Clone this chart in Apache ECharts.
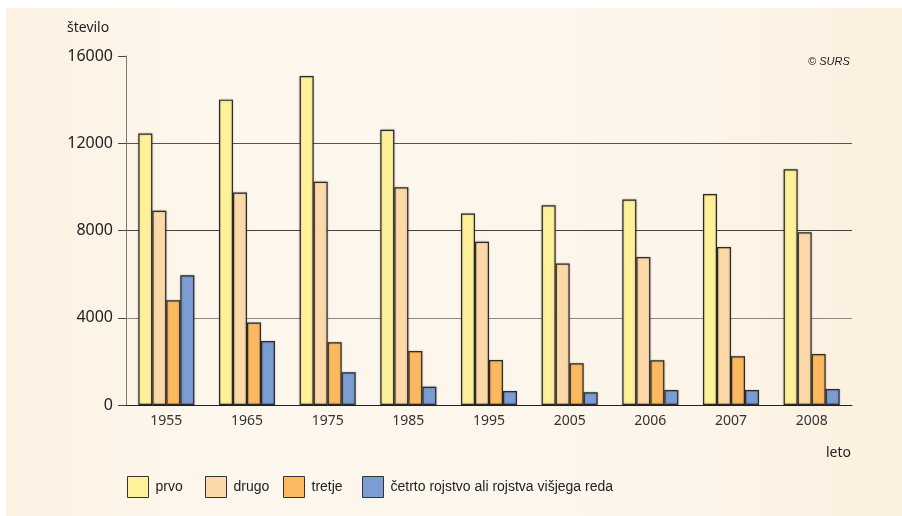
<!DOCTYPE html>
<html>
<head>
<meta charset="utf-8">
<script src="https://cdn.jsdelivr.net/npm/echarts@6/dist/echarts.min.js"></script>
<style>
  html, body { margin: 0; padding: 0; background: #fff; }
  #chart { width: 902px; height: 516px; }
</style>
</head>
<body>
<div id="chart"></div>
<script>
  // leta (kategorije)
  const years = ['1955', '1965', '1975', '1985', '1995', '2005', '2006', '2007', '2008']
  const seriesNames = ['prvo', 'drugo', 'tretje', 'četrto rojstvo ali rojstva višjega reda']
  const prvo = [12450, 14000, 15080, 12620, 8780, 9160, 9420, 9670, 10810]
  const drugo = [8900, 9740, 10230, 9980, 7480, 6490, 6780, 7240, 7920]
  const tretje = [4800, 3780, 2880, 2470, 2060, 1910, 2050, 2230, 2340]
  const cetrto = [5950, 2930, 1500, 840, 640, 580, 690, 690, 730]
  const yTicks = [0, 4000, 8000, 12000, 16000]

  const colors = ['#fff09a', '#fdd9a9', '#fdb95f', '#7b9dd3']
  const valueSets = [prvo, drugo, tretje, cetrto]
  const legendLeft = [127, 205, 283, 362]

  const font = '"Noto Sans", "Open Sans", sans-serif'

  const chart = echarts.init(document.getElementById('chart'))

  const option = {
    backgroundColor: '#fff',
    animation: false,
    textStyle: { fontFamily: font },
    graphic: [
      {
        type: 'rect',
        z: -10,
        silent: true,
        shape: { x: 6, y: 8, width: 896, height: 508 },
        style: {
          fill: {
            type: 'linear', x: 0, y: 0, x2: 1, y2: 0,
            colorStops: [
              { offset: 0, color: '#fdf2e2' },
              { offset: 0.25, color: '#fdf7ee' },
              { offset: 0.75, color: '#fdf5ea' },
              { offset: 1, color: '#fcf0de' }
            ]
          }
        }
      },
      {
        type: 'text', left: 67, top: 21,
        style: { text: 'število', fontSize: 14, fill: '#222', fontFamily: font }
      },
      {
        type: 'text', left: 826, top: 446,
        style: { text: 'leto', fontSize: 14, fill: '#222', fontFamily: font }
      },
      {
        type: 'text', left: 808, top: 56,
        style: { text: '© SURS', fontSize: 11, fontStyle: 'italic', fill: '#222', fontFamily: '"Liberation Sans", Arial, sans-serif' }
      }
    ],
    grid: { left: 126, right: 50, top: 56, bottom: 111 },
    legend: seriesNames.map((n, i) => ({
      data: [n],
      left: legendLeft[i],
      top: 476,
      padding: 0,
      icon: 'rect',
      itemWidth: 21,
      itemHeight: 21,
      itemStyle: { borderColor: '#333', borderWidth: 1 },
      textStyle: { fontSize: 14, color: '#222', padding: [0, 0, 0, 2], fontFamily: '"Liberation Sans Narrow", "Liberation Sans", sans-serif' }
    })),
    xAxis: [{
      type: 'category',
      data: years,
      axisLine: { lineStyle: { color: '#222', width: 1 } },
      axisTick: { show: false },
      axisLabel: { color: '#333', fontSize: 14, margin: 9 }
    }],
    yAxis: [{
      type: 'value',
      min: yTicks[0],
      max: yTicks[yTicks.length - 1],
      interval: 4000,
      axisLine: { show: true, lineStyle: { color: '#777', width: 1 } },
      axisTick: { show: true, length: 8, lineStyle: { color: '#444' } },
      axisLabel: { color: '#222', fontSize: 16, margin: 13, formatter: v => String(v) },
      splitLine: {
        show: true,
        lineStyle: { color: ['rgba(0,0,0,0)', '#888', '#444', '#555', 'rgba(0,0,0,0)'], width: 1 }
      }
    }],
    series: valueSets.map((vals, i) => ({
      name: seriesNames[i],
      type: 'bar',
      data: vals,
      barWidth: 14,
      barGap: '0%',
      itemStyle: {
        color: colors[i],
        borderColor: '#2b2b2b',
        borderWidth: 1.2,
        shadowColor: 'rgba(0,0,0,0.25)',
        shadowBlur: 2
      }
    }))
  }

  chart.setOption(option, true)
</script>
</body>
</html>
